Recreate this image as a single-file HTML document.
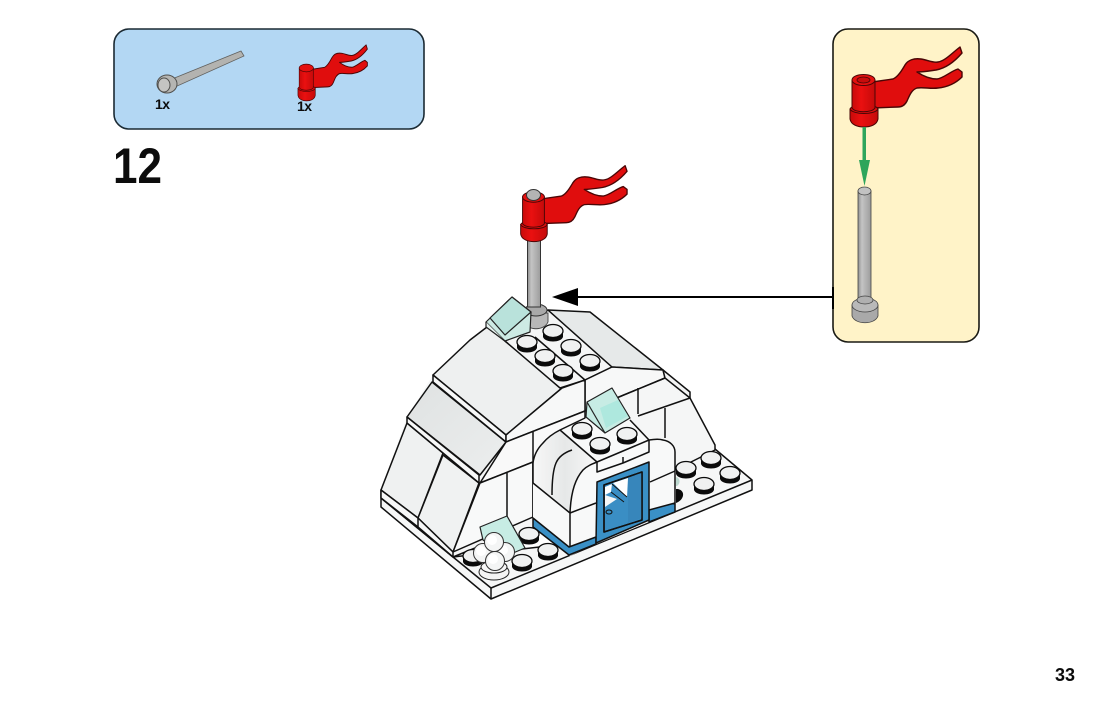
<!DOCTYPE html>
<html><head><meta charset="utf-8"><style>
html,body{margin:0;padding:0;background:#fff;width:1106px;height:709px;overflow:hidden}
svg{display:block}
text{font-family:"Liberation Sans",Arial,sans-serif;font-weight:bold;fill:#0c0c0c}
</style></head><body>
<svg width="1106" height="709" viewBox="0 0 1106 709" xmlns="http://www.w3.org/2000/svg">
<defs>
<linearGradient id="rod" x1="0" x2="1" y1="0" y2="0"><stop offset="0" stop-color="#8f8f8f"/><stop offset=".3" stop-color="#c4c4c4"/><stop offset="1" stop-color="#9c9c9c"/></linearGradient>
<linearGradient id="cyl" x1="0" x2="1" y1="0" y2="0"><stop offset="0" stop-color="#c80a0a"/><stop offset=".4" stop-color="#ea1010"/><stop offset="1" stop-color="#c50a0a"/></linearGradient>
<g id="flag">
<path d="M872 82L893 79C898 77 902 70 905 65C908 60 914 58 921 59C928 60 932 63 938 62C945 61 952 53 960 47L962 53C956 60 947 68 936 70C929 71 923 72 917 72C923 76 929 79 937 79C944 78 951 71 958 69L962 72V77C956 83 948 87 938 88C931 89 923 87 917 88C911 90 909 97 907 101C905 105 902 107 898 107L872 108Z" fill="#e00d0d" stroke="#4a0606" stroke-width="1.400" stroke-linejoin="round"/>
<path d="M850 109V119C851 125 858 127 864 127C870 127 877 125 878 119V109Z" fill="url(#cyl)" stroke="#4a0606" stroke-width="1"/>
<path d="M850 109C853 103 875 103 878 109C875 115 853 115 850 109Z" fill="#e00e0e" stroke="#4a0606" stroke-width="1"/>
<path d="M852 80V108C855 113 872 113 875 108V80Z" fill="url(#cyl)" stroke="#4a0606" stroke-width="1"/>
<ellipse cx="863.500" cy="80" rx="11.500" ry="5.500" fill="#e4100f" stroke="#4a0606" stroke-width="1"/>
</g>
<g id="s"><path d="M-10 -1V5C-8 11 8 11 10 5V-1Z" fill="#0b0b0b"/><ellipse cx="0" cy="-1" rx="10" ry="6.500" fill="#f0f1f1" stroke="#0b0b0b" stroke-width="1.300"/></g>
<g id="b"><circle r="9.500" fill="#f4f5f5" stroke="#333" stroke-width="1"/><circle cx="-2" cy="-2" r="5" fill="#fff"/></g>
<linearGradient id="gr" x1="0" x2="1" y1="0" y2="1"><stop offset="0" stop-color="#dfe2e2"/><stop offset="1" stop-color="#eceeee"/></linearGradient>
<linearGradient id="gb" x1="0" x2="1" y1="0" y2="0"><stop offset="0" stop-color="#f7f7f7"/><stop offset=".5" stop-color="#e6e8e8"/><stop offset="1" stop-color="#f8f8f8"/></linearGradient>
</defs>

<!-- parts panel -->
<rect x="114" y="29" width="310" height="100" rx="15" fill="#b3d7f3" stroke="#1b2a33" stroke-width="1.600"/>
<path d="M172 79L241 51L244 56L175 87Z" fill="#b3b3b0" stroke="#60605e" stroke-width=".8"/>
<ellipse cx="167" cy="84" rx="10" ry="9" fill="#b5b5b2" stroke="#50504e" stroke-width="1"/>
<ellipse cx="164" cy="85" rx="6" ry="7" fill="#c4c4c2" stroke="#50504e" stroke-width="1"/>
<text x="155" y="109" font-size="14" letter-spacing="-.5">1x</text>
<use href="#flag" transform="translate(306 68) scale(.62 .7) translate(-863 -80)"/>
<text x="297" y="111" font-size="14" letter-spacing="-.5">1x</text>
<text x="113" y="183" font-size="50" textLength="49" lengthAdjust="spacingAndGlyphs">12</text>

<!-- callout -->
<rect x="833" y="29" width="146" height="313" rx="15" fill="#fff3c8" stroke="#1a1a14" stroke-width="1.600"/>
<path d="M833 287V309" stroke="#000" stroke-width="2"/>
<use href="#flag"/>
<ellipse cx="863.500" cy="80" rx="6.500" ry="3" fill="#c70c0c" stroke="#4a0606" stroke-width=".8"/>
<rect x="862.500" y="127" width="3.500" height="34" fill="#2ea55b"/>
<path d="M859 160H870L864.500 186Z" fill="#2ea55b"/>
<rect x="858" y="191" width="13" height="108" fill="url(#rod)" stroke="#444" stroke-width=".8"/>
<ellipse cx="864.500" cy="191" rx="6.500" ry="4" fill="#c2c2c2" stroke="#444" stroke-width=".8"/>
<path d="M852 305V316C855 325 875 325 878 316V305Z" fill="#a9a9a9" stroke="#444" stroke-width=".8"/>
<ellipse cx="865" cy="305" rx="13" ry="7" fill="#b9b9b9" stroke="#444" stroke-width=".8"/>
<ellipse cx="865" cy="300" rx="8" ry="4" fill="#b0b0b0" stroke="#444" stroke-width=".8"/>

<!-- pointer -->
<path d="M575 297H832" stroke="#000" stroke-width="2"/>
<path d="M552 297L578 288V306Z" fill="#000"/>

<g stroke="#111" stroke-width="1.500" stroke-linejoin="round" fill="none">
<!-- plate -->
<path d="M381 490V507L491 599L752 490V480L715 449L680 464L600 540L453 557L381 498Z" fill="#f6f7f7"/>
<path d="M453 557L491 588L752 480" />
<path d="M491 588V599"/>
<path d="M381 498L453 557" />

<!-- silhouette fill -->
<path d="M381 490L407 417L433 375L487 327L548 310L590 312L663 370L690 392V398L715 445V450L675 470V505L570 556L533 527L500 540L453 557Z" fill="#f5f6f6" stroke="none"/>

<!-- lower left blocks -->
<path d="M381 490L407 423L443 453L418 518Z" fill="#eff1f1"/>
<path d="M443 455L479 483L453 552L418 518Z" fill="#f0f2f2"/>
<path d="M381 490V498L418 527L453 557V552L418 518Z" fill="#f7f8f8"/>
<path d="M418 518V527"/>
<!-- mid band -->
<path d="M432 382L506 442L480 475L407 417Z" fill="url(#gr)"/>
<path d="M407 417V423L479 483V475Z" fill="#f7f8f8"/>
<!-- upper roof -->
<path d="M433 375L470 340L487 327L505 341L562 388L506 435Z" fill="#eef0f0"/>
<path d="M433 375V382L506 442V435Z" fill="#f7f8f8"/>
<!-- stud strip -->
<path d="M505 341L548 310L612 367L585 380L560 388Z" fill="#f5f6f6"/>
<path d="M535 337L585 380"/>
<!-- right roof -->
<path d="M548 310L590 312L663 370L612 367Z" fill="#e6e9e9"/>
<path d="M612 367L663 370L665 378L585 411V380Z" fill="#f7f8f8"/>
<path d="M663 370L690 392V398L665 378Z" fill="#f3f4f4"/>
<!-- panel E, F, G -->
<path d="M506 442V435L562 388L585 380V411Z" fill="#f7f8f8"/>
<path d="M506 442L585 411V440L533 462L480 483Z" fill="#f9f9f9"/>
<path d="M480 483L533 462V517L453 552Z" fill="#f8f9f9"/>
<path d="M507 473V517"/>
<path d="M533 432V517"/>
<path d="M585 411L665 378"/>
<path d="M638 388V414"/>
<path d="M638 416L690 398L715 445V450L675 470"/>
<path d="M665 408V438"/>
<path d="M453 557L480 546"/>

<!-- arch body -->
<path d="M533 483V463C534 455 538 448 543 443C548 437 554 433 560 430L597 413L630 418L649 440L663 440C670 441 675 446 675 452V503L649 512V522L596 544L569 555L533 527Z" fill="#f8f9f9" stroke="none"/>
<path d="M533 483V463C534 455 538 448 543 443C548 437 554 433 560 430L597 462C590 464 585 468 583 470C576 476 571 490 570 513Z" fill="url(#gb)" stroke="none"/>
<path d="M533 483V463C534 455 538 448 543 443C548 437 554 433 560 430L585 418M630 420L649 440C655 439 660 439 663 440C670 441 675 446 675 452V503"/>
<path d="M560 430L597 462L649 440"/>
<path d="M552 495C552 482 553 470 556 463C559 456 566 452 572 450"/>
<path d="M570 513C571 490 576 478 583 470C587 466 592 464 597 462"/>
<path d="M533 483L570 513V555"/>
<path d="M570 513L596 503"/>
<path d="M597 462V472L623 463L649 452V440"/>
<path d="M623 457V463"/>
<path d="M650 482L675 471"/>
<!-- blue -->
<path d="M533 518L569 547L596 537V544L569 555L533 527Z" fill="#3a90c6" stroke="#111"/>
<path d="M649 510L675 503V512L649 522Z" fill="#3a90c6"/>
<path d="M597 482L649 462V520L596 543Z" fill="#3a90c6"/>
<path d="M604 485L642 472V520L604 532Z" fill="#3a8ec4"/>
<path d="M613 483L628 478L627 497Z" fill="#fff" stroke="none"/>
<path d="M605 487L612 484L611 492L605 495Z" fill="#fff" stroke="none"/>
<path d="M605 495L617 499L605 507Z" fill="#f6f6f6" stroke="none"/>
<path d="M612 484L627 497M611 492L624 502" stroke-width="1"/>
<path d="M628 478L642 472V518L628 523Z" fill="#3786bb" stroke="none"/>
<path d="M604 485L642 472V520L604 532Z"/>
<ellipse cx="609" cy="512" rx="3" ry="2" fill="#3a90c6" stroke-width="1"/>
</g>

<!-- studs -->
<use href="#s" x="527" y="343"/><use href="#s" x="553" y="332"/><use href="#s" x="571" y="347"/><use href="#s" x="590" y="362"/><use href="#s" x="545" y="357"/><use href="#s" x="563" y="372"/>
<use href="#s" x="582" y="430"/><use href="#s" x="627" y="435"/><use href="#s" x="600" y="445"/>
<use href="#s" x="686" y="469"/><use href="#s" x="711" y="459"/><use href="#s" x="704" y="485"/><use href="#s" x="730" y="474"/>
<path d="M676 489H678C686 491 684 500 676 503Z" fill="#0b0b0b"/><path d="M676 477C680 478 681 483 677 486H676Z" fill="#bcd8cf"/>
<use href="#s" x="529" y="535"/><use href="#s" x="548" y="551"/><use href="#s" x="522" y="562"/><use href="#s" x="473" y="557"/>

<!-- pole main -->
<path d="M524 313V322C528 331 544 331 548 322V313Z" fill="#b8b8b8" stroke="#444" stroke-width=".9"/>
<ellipse cx="536" cy="310" rx="11" ry="6" fill="#a9a9a9" stroke="#333" stroke-width="1"/>
<rect x="527.500" y="238" width="13" height="69" fill="url(#rod)" stroke="#333" stroke-width="1"/>
<use href="#flag" transform="translate(533 197) scale(.95) translate(-863 -80)"/>
<ellipse cx="533.500" cy="195" rx="7" ry="5.500" fill="#b4b4b4" stroke="#333" stroke-width="1"/>

<!-- trans slopes -->
<g stroke="#222" stroke-width="1.200" stroke-linejoin="round">
<path d="M512 297L531 312L530 332L505 341L486 322Z" fill="#cdeae4"/>
<path d="M512 297L531 312L505 335L490 318Z" fill="#b9e2db"/>
<path d="M486 322V327L505 341" fill="#e5f2ef"/>
<path d="M612 388L630 418L605 433L586 417L587 402Z" fill="#c7ece4"/>
<path d="M600 408L618 400L628 416L606 428Z" fill="#aee8de" stroke="none"/>
<path d="M587 402L605 433" fill="none"/>
<path d="M480 527L507 516L525 548L513 553L495 548L483 540Z" fill="#c7ece4"/>
</g>

<!-- snowballs -->
<ellipse cx="494" cy="572" rx="15" ry="8" fill="#f4f4f4" stroke="#222" stroke-width="1"/>
<ellipse cx="494" cy="567" rx="13" ry="6" fill="#f7f7f7" stroke="#222" stroke-width="1"/>
<use href="#b" x="483" y="553"/><use href="#b" x="505" y="552"/><use href="#b" x="494" y="542"/><use href="#b" x="495" y="561"/>

<text x="1055" y="681" font-size="18">33</text>
</svg>
</body></html>
